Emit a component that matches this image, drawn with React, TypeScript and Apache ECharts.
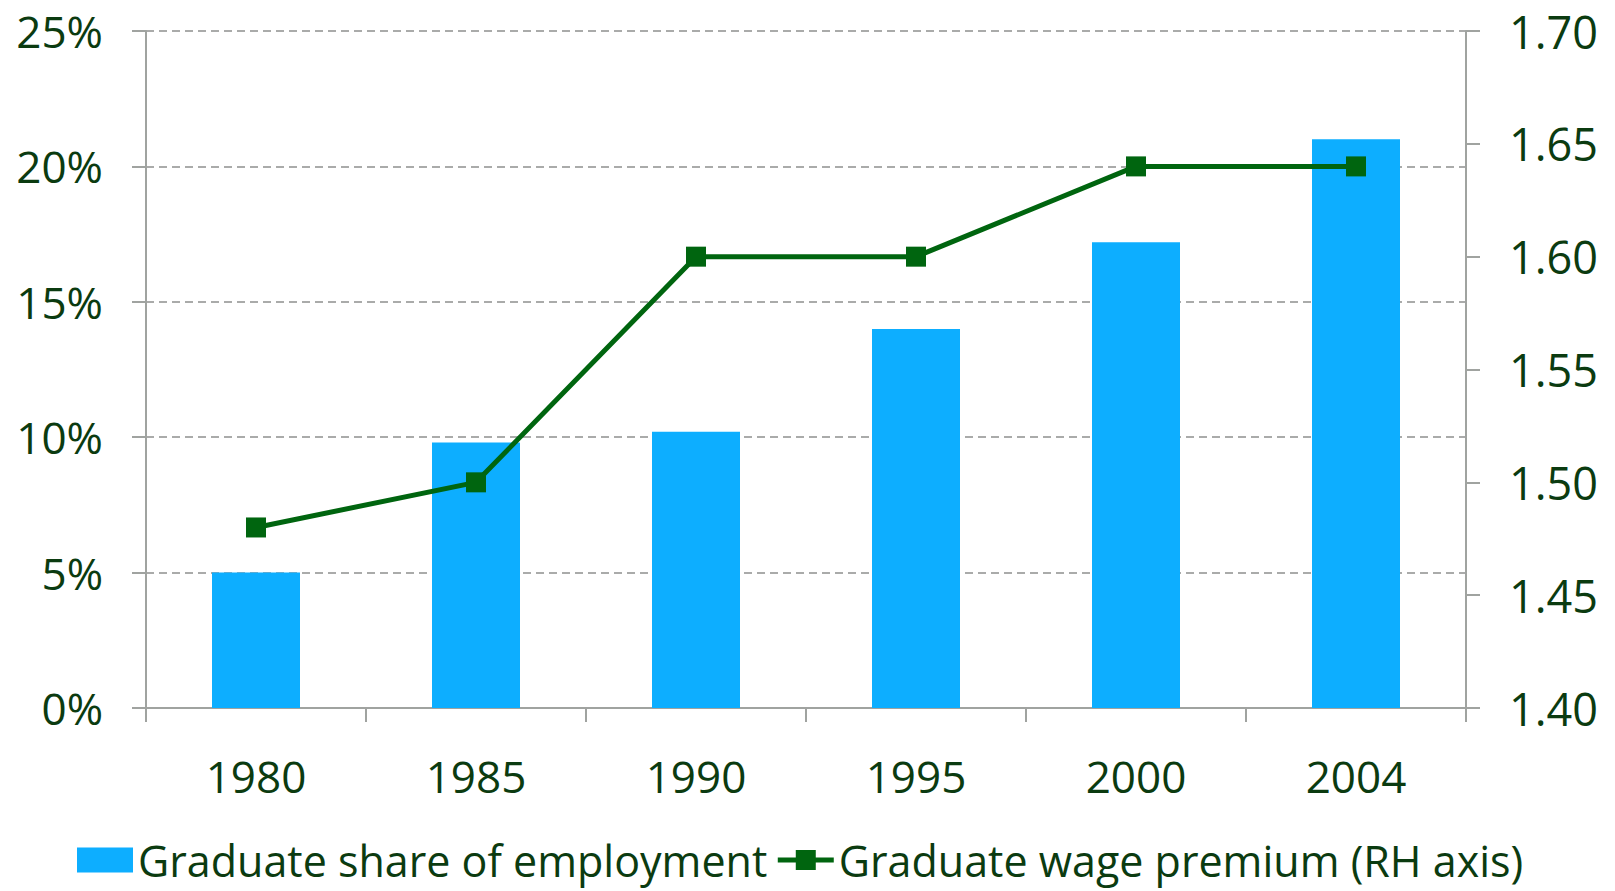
import React, { useEffect, useRef } from "react";
import * as echarts from "echarts";

const years = ["1980", "1985", "1990", "1995", "2000", "2004"];
const graduateShare = [5.0, 9.8, 10.2, 14.0, 17.2, 21.0];
const wagePremium = [1.48, 1.5, 1.6, 1.6, 1.64, 1.64];
const seriesNames = ["Graduate share of employment", "Graduate wage premium (RH axis)"];

const TEXT = "#0B3B10";
const AXIS = "#A0A3A0";
const LINE = "#00650F";
const FONT = "Open Sans";

export default function App() {
  const ref = useRef<HTMLDivElement>(null);
  useEffect(() => {
    document.body.style.margin = "0";
    const chart = echarts.init(ref.current!, null, { renderer: "svg" });
    chart.setOption({
      animation: false,
      backgroundColor: "#ffffff",
      textStyle: { fontFamily: FONT, color: TEXT },
      grid: { left: 146, right: 149, top: 31, bottom: 183, containLabel: false },
      legend: {
        left: 72,
        top: 833,
        itemWidth: 56,
        itemHeight: 25,
        itemGap: 8,
        textStyle: { fontSize: 43, color: TEXT, fontFamily: FONT, lineHeight: 44 },
        data: [
          { name: seriesNames[0], icon: "rect" },
          { name: seriesNames[1], lineStyle: { width: 5, color: LINE } },
        ],
      },
      xAxis: {
        type: "category",
        data: years,
        axisLine: { show: true, lineStyle: { color: AXIS, width: 2 } },
        axisTick: { show: true, length: 14, lineStyle: { color: AXIS, width: 2 } },
        axisLabel: { fontSize: 44, color: TEXT, margin: 46, fontFamily: FONT },
      },
      yAxis: [
        {
          type: "value",
          min: 0,
          max: 25,
          interval: 5,
          position: "left",
          axisLine: { show: true, lineStyle: { color: AXIS, width: 2 } },
          axisTick: { show: true, length: 14, lineStyle: { color: AXIS, width: 2 } },
          axisLabel: {
            fontSize: 44,
            color: TEXT,
            margin: 43,
            fontFamily: FONT,
            formatter: (v: number) => `${v}%`,
          },
          splitLine: { show: true, lineStyle: { color: "#8E908E", width: 1.5, type: [8, 5] } },
        },
        {
          type: "value",
          min: 1.4,
          max: 1.7,
          interval: 0.05,
          position: "right",
          axisLine: { show: true, lineStyle: { color: AXIS, width: 2 } },
          axisTick: { show: true, length: 14, lineStyle: { color: AXIS, width: 2 } },
          axisLabel: {
            fontSize: 45,
            color: TEXT,
            margin: 43,
            fontFamily: FONT,
            formatter: (v: number) => v.toFixed(2),
          },
          splitLine: { show: false },
        },
      ],
      series: [
        {
          name: seriesNames[0],
          type: "bar",
          data: graduateShare,
          barWidth: "40%",
          itemStyle: { color: "#0DAEFF" },
          yAxisIndex: 0,
          z: 2,
        },
        {
          name: seriesNames[1],
          type: "line",
          data: wagePremium,
          yAxisIndex: 1,
          symbol: "rect",
          symbolSize: 20,
          lineStyle: { color: LINE, width: 5 },
          itemStyle: { color: LINE },
          z: 3,
        },
      ],
    });
    return () => chart.dispose();
  }, []);
  return <div ref={ref} style={{ width: 1615, height: 891 }} />;
}
